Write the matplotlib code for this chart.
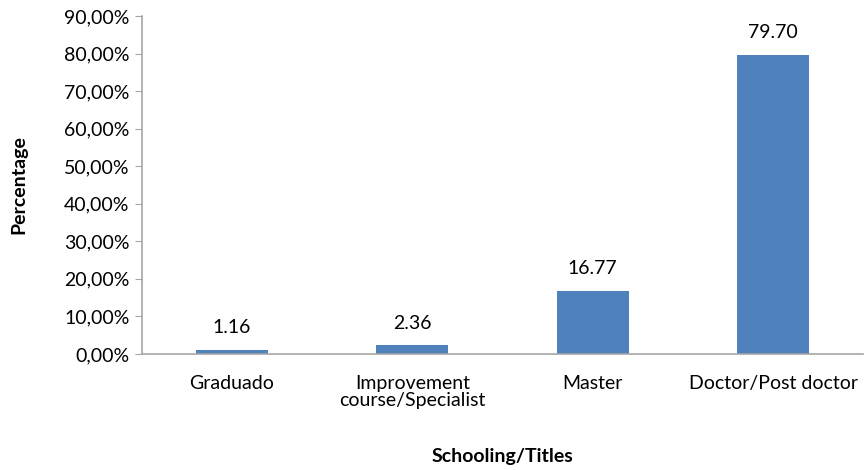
import numpy as np
import matplotlib.pyplot as plt
from matplotlib.ticker import FuncFormatter

plt.rcParams['font.family'] = ['Lato', 'DejaVu Sans']

categories = ["Graduado", "Improvement\ncourse/Specialist", "Master", "Doctor/Post doctor"]
values = [1.16, 2.36, 16.77, 79.70]
labels = ["1.16", "2.36", "16.77", "79.70"]

fig = plt.figure(figsize=(8.65, 4.70), dpi=100)
ax = fig.add_axes([0.164, 0.247, 0.834, 0.719])

x = np.arange(len(categories))
bars = ax.bar(x, values, width=0.4, color="#4F81BD")

for b, lab in zip(bars, labels):
    ax.text(b.get_x() + b.get_width() / 2, b.get_height() + 3.6, lab,
            ha="center", va="bottom", fontsize=14, color="#000000")

ax.set_xlim(-0.5, 3.5)
ax.set_ylim(0, 90)
ax.set_yticks(np.arange(0, 91, 10))
ax.yaxis.set_major_formatter(FuncFormatter(lambda v, p: f"{v:.2f}%".replace(".", ",")))
ax.set_xticks(x)
ax.set_xticklabels(categories, fontsize=14, linespacing=1.05)
ax.tick_params(axis="y", labelsize=14, length=5, color="#A6A6A6", pad=4)
ax.tick_params(axis="x", length=0, pad=15)

for s in ["top", "right"]:
    ax.spines[s].set_visible(False)
for s in ["left", "bottom"]:
    ax.spines[s].set_color("#A6A6A6")
    ax.spines[s].set_linewidth(1.2)

ax.set_ylabel("Percentage", fontsize=14, fontweight="bold", labelpad=26)
ax.set_xlabel("Schooling/Titles", fontsize=14, fontweight="bold", labelpad=28)

fig.savefig("out.png", dpi=100)
